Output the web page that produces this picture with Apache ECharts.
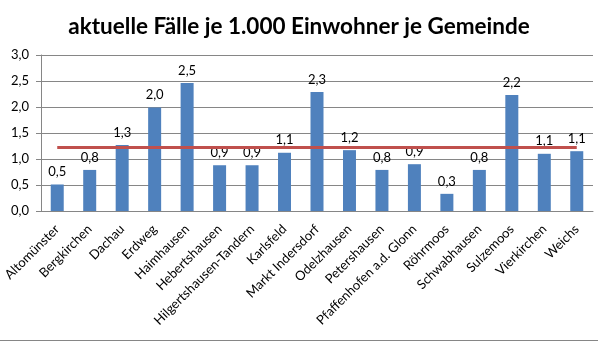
<!DOCTYPE html>
<html>
<head>
<meta charset="utf-8">
<script src="https://cdn.jsdelivr.net/npm/echarts@6/dist/echarts.min.js"></script>
<style>
  html, body { margin: 0; padding: 0; background: #fff; }
  #chart { width: 598px; height: 342px; }
</style>
</head>
<body>
<div id="chart"></div>
<script>
// Gemeinden im Landkreis
const gemeinden = [
  'Altomünster', 'Bergkirchen', 'Dachau', 'Erdweg', 'Haimhausen',
  'Hebertshausen', 'Hilgertshausen-Tandern', 'Karlsfeld', 'Markt Indersdorf',
  'Odelzhausen', 'Petershausen', 'Pfaffenhofen a.d. Glonn', 'Röhrmoos',
  'Schwabhausen', 'Sulzemoos', 'Vierkirchen', 'Weichs'
];
// aktuelle Fälle je 1.000 Einwohner
const faelle = [0.51, 0.79, 1.27, 1.99, 2.46, 0.88, 0.88, 1.12, 2.29,
  1.17, 0.79, 0.90, 0.33, 0.79, 2.23, 1.10, 1.15];
// Landkreisdurchschnitt
const durchschnitt = gemeinden.map(() => 1.22);
const yTicks = { min: 0, max: 3, interval: 0.5 };

const fmt1 = v => v.toFixed(1).replace('.', ',');
const FONT = 'Lato';
const grey = '#868686';

const chart = echarts.init(document.getElementById('chart'));
chart.setOption({
  animation: false,
  textStyle: { fontFamily: FONT },
  title: {
    text: 'aktuelle Fälle je 1.000 Einwohner je Gemeinde',
    left: 'center',
    top: 10,
    textStyle: { fontFamily: FONT, fontSize: 22.5, fontWeight: 'bold', color: '#000' }
  },
  grid: { left: 41, right: 5, top: 55, bottom: 131 },
  xAxis: {
    type: 'category',
    data: gemeinden,
    axisLine: { lineStyle: { color: grey } },
    axisTick: { length: 5, lineStyle: { color: grey } },
    axisLabel: { rotate: 45, margin: 16, fontSize: 13, color: '#000', interval: 0 }
  },
  yAxis: {
    type: 'value',
    min: yTicks.min, max: yTicks.max, interval: yTicks.interval,
    axisLine: { show: true, lineStyle: { color: grey } },
    axisTick: { show: true, length: 5, lineStyle: { color: grey } },
    splitLine: { lineStyle: { color: grey } },
    axisLabel: { margin: 12, fontSize: 13, color: '#000', formatter: v => fmt1(v) }
  },
  series: [
    {
      type: 'bar',
      data: faelle,
      barWidth: 13,
      itemStyle: { color: '#4f81bd' },
      label: {
        show: true, position: 'top', distance: 6,
        fontSize: 13, color: '#000',
        formatter: p => fmt1(p.value)
      }
    },
    {
      type: 'line',
      data: durchschnitt,
      symbol: 'none',
      lineStyle: { color: '#c0504d', width: 3 },
      z: 3
    }
  ],
  graphic: [{
    type: 'line',
    shape: { x1: 0, y1: 340.5, x2: 598, y2: 340.5 },
    style: { stroke: grey, lineWidth: 1 }
  }]
});
</script>
</body>
</html>
